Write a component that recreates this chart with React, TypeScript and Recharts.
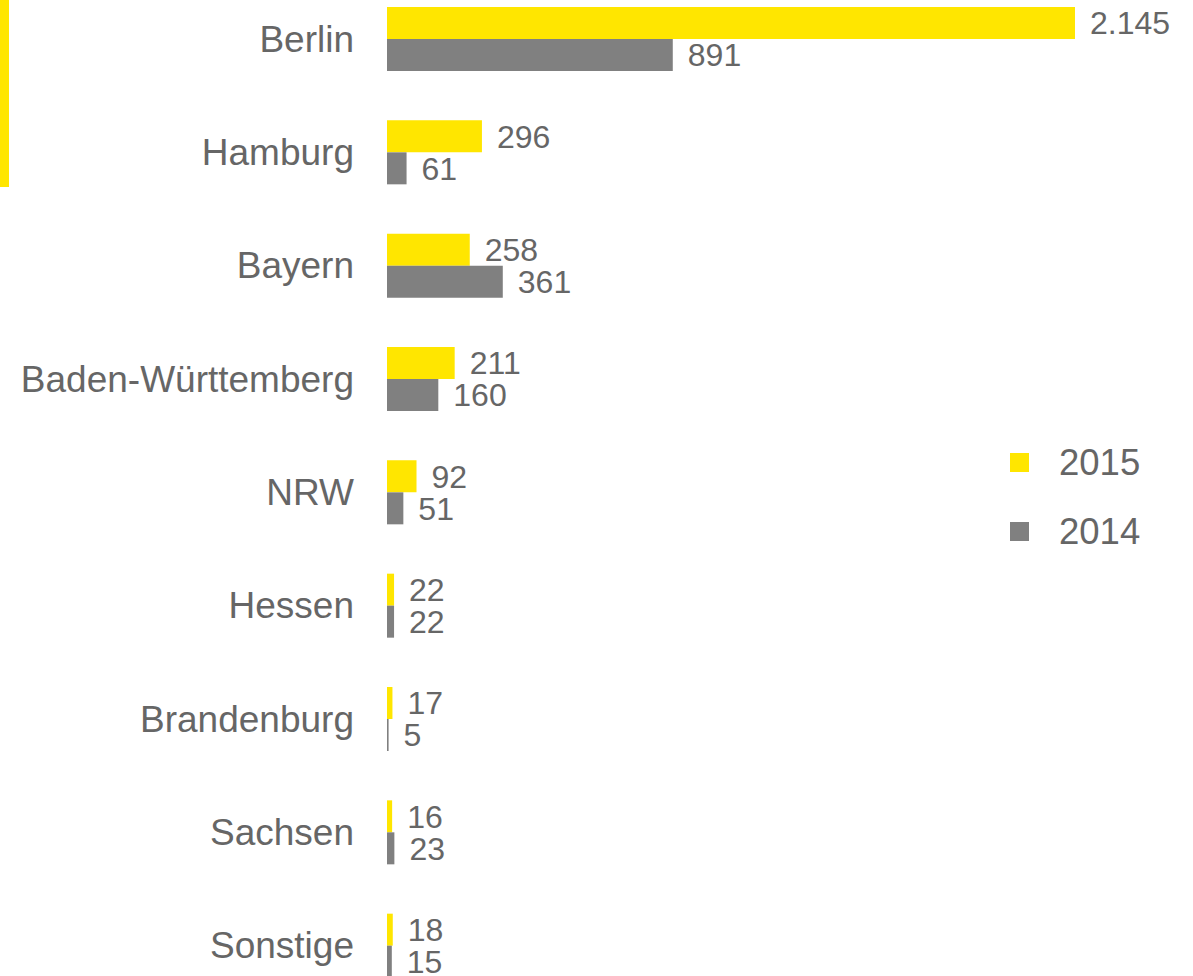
import React from 'react';
import { BarChart, Bar, XAxis, YAxis, LabelList, Legend } from 'recharts';

const categories = ['Berlin', 'Hamburg', 'Bayern', 'Baden-Württemberg', 'NRW', 'Hessen', 'Brandenburg', 'Sachsen', 'Sonstige'];
const values2015 = [2145, 296, 258, 211, 92, 22, 17, 16, 18];
const values2014 = [891, 61, 361, 160, 51, 22, 5, 23, 15];
const seriesNames = ['2015', '2014'];

const YELLOW = '#FFE600';
const GRAY = '#808080';
const seriesColors = [YELLOW, GRAY];
const TEXT = '#666666';
const FONT = "Arial, 'Liberation Sans', sans-serif";

const data = categories.map((name, i) => ({ name, v2015: values2015[i], v2014: values2014[i] }));

const fmt = (v: any) => String(v).replace(/\B(?=(\d{3})+(?!\d))/g, '.');

const LegendContent = () => {
  return (
    <div style={{ fontFamily: FONT }}>
      {seriesNames.map((name, i) => (
        <div key={name} style={{ height: 69, display: 'flex', alignItems: 'center' }}>
          <span style={{ display: 'inline-block', width: 19, height: 19, background: seriesColors[i], marginRight: 30 }} />
          <span style={{ fontSize: 36.5, color: TEXT, lineHeight: '37px' }}>{name}</span>
        </div>
      ))}
    </div>
  );
};

export default function App() {
  return (
    <div style={{ position: 'absolute', left: 0, top: 0, width: 1193, height: 976, overflow: 'hidden', background: '#fff' }}>
      <div style={{ position: 'absolute', left: 0, top: 0, width: 9, height: 187, background: YELLOW }} />
      <div style={{ position: 'absolute', left: 0, top: -17.7 }}>
        <BarChart
          width={1193}
          height={1020}
          data={data}
          layout="vertical"
          margin={{ top: 0, right: 4.14, bottom: 0, left: 0 }}
          barGap={0}
          barSize={32}
        >
          <XAxis type="number" domain={[0, 2500]} hide allowDataOverflow />
          <YAxis
            type="category"
            dataKey="name"
            width={387}
            axisLine={false}
            tickLine={false}
            tickSize={0}
            tickMargin={33}
            interval={0}
            tick={{ fill: TEXT, fontSize: 37, fontFamily: FONT }}
          />
          <Legend
            layout="horizontal"
            verticalAlign="middle"
            align="center"
            content={LegendContent}
            wrapperStyle={{ left: 1010, top: 445.2, width: 183, height: 138 }}
          />
          <Bar dataKey="v2015" name={seriesNames[0]} fill={YELLOW} isAnimationActive={false}>
            <LabelList dataKey="v2015" position="right" offset={15} formatter={fmt} fill={TEXT} fontSize={32} fontFamily={FONT} />
          </Bar>
          <Bar dataKey="v2014" name={seriesNames[1]} fill={GRAY} isAnimationActive={false}>
            <LabelList dataKey="v2014" position="right" offset={15} formatter={fmt} fill={TEXT} fontSize={32} fontFamily={FONT} />
          </Bar>
        </BarChart>
      </div>
    </div>
  );
}
